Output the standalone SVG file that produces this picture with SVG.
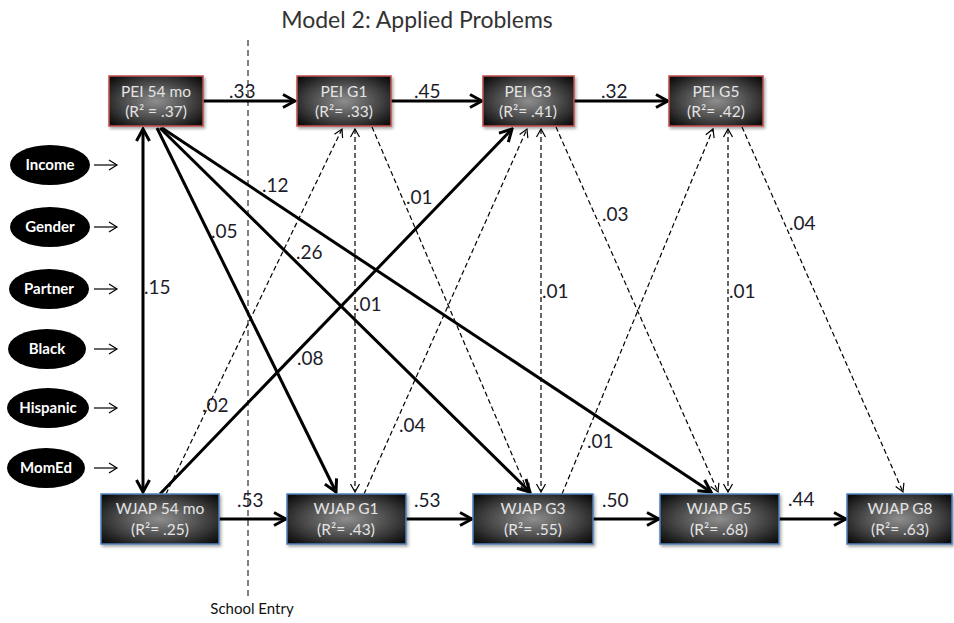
<svg xmlns="http://www.w3.org/2000/svg" width="954" height="623" viewBox="0 0 954 623">
  <defs>
    <radialGradient id="boxFill" cx="50%" cy="50%" r="65%">
      <stop offset="0" stop-color="#8e8e8e"/>
      <stop offset="0.55" stop-color="#4a4a4a"/>
      <stop offset="1" stop-color="#0e0e0e"/>
    </radialGradient>
    <filter id="shadow" x="-10%" y="-10%" width="125%" height="135%">
      <feDropShadow dx="1.5" dy="2" stdDeviation="1.5" flood-color="#000" flood-opacity="0.35"/>
    </filter>
    <marker id="headBold" viewBox="-14 -8 16 16" markerWidth="16" markerHeight="16" refX="0" refY="0" orient="auto-start-reverse" markerUnits="userSpaceOnUse">
      <path d="M -12 -6.5 L 0 0 L -12 6.5" fill="none" stroke="#000" stroke-width="3" stroke-linejoin="miter"/>
    </marker>
    <marker id="headThin" viewBox="-10 -6 12 12" markerWidth="12" markerHeight="12" refX="0" refY="0" orient="auto-start-reverse" markerUnits="userSpaceOnUse">
      <path d="M -8 -4.5 L 0 0 L -8 4.5" fill="none" stroke="#000" stroke-width="1.2" stroke-dasharray="none"/>
    </marker>
    <marker id="headSmall" viewBox="-12 -7 14 14" markerWidth="14" markerHeight="14" refX="0" refY="0" orient="auto" markerUnits="userSpaceOnUse">
      <path d="M -8 -5 L 0 0 L -8 5" fill="none" stroke="#000" stroke-width="1.2"/>
    </marker>
  </defs>
  <style>
    .title { font-family: "Lato", "Liberation Sans", sans-serif; font-size: 23px; fill: #333; }
    .box rect { fill: url(#boxFill); stroke-width: 1.5; filter: url(#shadow); }
    .pei rect { stroke: #c0504d; }
    .wjap rect { stroke: #4f81bd; }
    .box text { font-family: "Lato", "Liberation Sans", sans-serif; font-size: 15.5px; fill: #e4e4e4; text-anchor: middle; }
    .cov ellipse { fill: #000; }
    .cov text { font-family: "Lato", "Liberation Sans", sans-serif; font-size: 15px; font-weight: bold; fill: #fff; text-anchor: middle; }
    .bold { fill: none; stroke: #000; stroke-width: 3; marker-end: url(#headBold); }
    .dash { fill: none; stroke: #000; stroke-width: 1.2; stroke-dasharray: 5 3; marker-end: url(#headThin); }
    .both { marker-start: url(#headThin); }
    .bothBold { marker-start: url(#headBold); }
    .small { fill: none; stroke: #000; stroke-width: 1.2; marker-end: url(#headSmall); }
    .entry { fill: none; stroke: #000; stroke-width: 1; stroke-dasharray: 6 4; }
    .coef { font-family: "Lato", "Liberation Sans", sans-serif; font-size: 19px; fill: #1c1c2a; }
    .note { font-family: "Lato", "Liberation Sans", sans-serif; font-size: 15px; fill: #111; text-anchor: middle; }
  </style>

  <text class="title" x="417" y="28" text-anchor="middle">Model 2: Applied Problems</text>

  <!-- school entry divider -->
  <g id="school-entry">
    <line class="entry" x1="248" y1="40" x2="248" y2="598"/>
    <text class="note" x="252" y="614">School Entry</text>
  </g>

  <!-- connectors -->
  <g id="connectors">
    <!-- stability paths -->
    <path class="bold" d="M203,101 H295"/>
    <path class="bold" d="M391,101 H482"/>
    <path class="bold" d="M574,101 H668"/>
    <path class="bold" d="M219,519 H286"/>
    <path class="bold" d="M406,519 H472"/>
    <path class="bold" d="M593,519 H659"/>
    <path class="bold" d="M779,519 H846"/>
    <!-- 54 month covariance -->
    <path class="bold bothBold" d="M143,129 V492"/>
    <!-- cross-lagged paths, solid -->
    <path class="bold" d="M157,128 L336,492"/>
    <path class="bold" d="M160,128 L530,492"/>
    <path class="bold" d="M162,128 L711,492"/>
    <path class="bold" d="M160,494 L512,129"/>
    <!-- cross-lagged paths, dashed -->
    <path class="dash" d="M166,494 L342,129"/>
    <path class="dash both" d="M355,129 V492"/>
    <path class="dash" d="M372,127 L528,492"/>
    <path class="dash" d="M364,494 L527,129"/>
    <path class="dash both" d="M541,129 V492"/>
    <path class="dash" d="M556,127 L718,492"/>
    <path class="dash" d="M562,494 L713,129"/>
    <path class="dash both" d="M728,129 V492"/>
    <path class="dash" d="M742,127 L903,492"/>
    <!-- covariate arrows -->
    <path class="small" d="M94,165 H117"/>
    <path class="small" d="M94,227 H117"/>
    <path class="small" d="M94,289 H117"/>
    <path class="small" d="M94,349 H117"/>
    <path class="small" d="M94,408 H117"/>
    <path class="small" d="M94,468 H117"/>
  </g>

  <!-- path coefficients -->
  <g id="coefficients">
    <text class="coef" x="229" y="98">.33</text>
    <text class="coef" x="414" y="98">.45</text>
    <text class="coef" x="601" y="98">.32</text>
    <text class="coef" x="237" y="507">.53</text>
    <text class="coef" x="414" y="507">.53</text>
    <text class="coef" x="602" y="507">.50</text>
    <text class="coef" x="788" y="506">.44</text>
    <text class="coef" x="144" y="294">.15</text>
    <text class="coef" x="262" y="192">.12</text>
    <text class="coef" x="211" y="238">.05</text>
    <text class="coef" x="296" y="259">.26</text>
    <text class="coef" x="297" y="365">.08</text>
    <text class="coef" x="202" y="412">.02</text>
    <text class="coef" x="355" y="311">.01</text>
    <text class="coef" x="406" y="204">.01</text>
    <text class="coef" x="399" y="432">.04</text>
    <text class="coef" x="542" y="298">.01</text>
    <text class="coef" x="602" y="221">.03</text>
    <text class="coef" x="587" y="448">.01</text>
    <text class="coef" x="729" y="298">.01</text>
    <text class="coef" x="789" y="230">.04</text>
  </g>

  <!-- PEI nodes -->
  <g id="pei54" class="box pei">
    <rect x="109" y="76" width="94" height="50"/>
    <text x="156" y="97">PEI 54 mo</text>
    <text x="156" y="117">(R² = .37)</text>
  </g>
  <g id="peiG1" class="box pei">
    <rect x="297" y="76" width="94" height="50"/>
    <text x="344" y="97">PEI G1</text>
    <text x="344" y="117">(R²= .33)</text>
  </g>
  <g id="peiG3" class="box pei">
    <rect x="483" y="76" width="91" height="50"/>
    <text x="528" y="97">PEI G3</text>
    <text x="528" y="117">(R²= .41)</text>
  </g>
  <g id="peiG5" class="box pei">
    <rect x="669" y="76" width="94" height="50"/>
    <text x="716" y="97">PEI G5</text>
    <text x="716" y="117">(R²= .42)</text>
  </g>

  <!-- WJAP nodes -->
  <g id="wjap54" class="box wjap">
    <rect x="101" y="494" width="118" height="50"/>
    <text x="160" y="514">WJAP 54 mo</text>
    <text x="160" y="535">(R²= .25)</text>
  </g>
  <g id="wjapG1" class="box wjap">
    <rect x="287" y="494" width="119" height="50"/>
    <text x="346" y="514">WJAP G1</text>
    <text x="346" y="535">(R²= .43)</text>
  </g>
  <g id="wjapG3" class="box wjap">
    <rect x="473" y="494" width="120" height="50"/>
    <text x="533" y="514">WJAP G3</text>
    <text x="533" y="535">(R²= .55)</text>
  </g>
  <g id="wjapG5" class="box wjap">
    <rect x="660" y="494" width="119" height="50"/>
    <text x="719" y="514">WJAP G5</text>
    <text x="719" y="535">(R²= .68)</text>
  </g>
  <g id="wjapG8" class="box wjap">
    <rect x="847" y="494" width="105" height="50"/>
    <text x="900" y="514">WJAP G8</text>
    <text x="900" y="535">(R²= .63)</text>
  </g>

  <!-- covariates -->
  <g id="income" class="cov">
    <ellipse cx="50" cy="165" rx="40" ry="20"/>
    <text x="50" y="170">Income</text>
  </g>
  <g id="gender" class="cov">
    <ellipse cx="50" cy="227" rx="40" ry="20"/>
    <text x="50" y="232">Gender</text>
  </g>
  <g id="partner" class="cov">
    <ellipse cx="49" cy="289" rx="40" ry="20"/>
    <text x="49" y="294">Partner</text>
  </g>
  <g id="black" class="cov">
    <ellipse cx="47" cy="349" rx="39" ry="20"/>
    <text x="47" y="354">Black</text>
  </g>
  <g id="hispanic" class="cov">
    <ellipse cx="48" cy="408" rx="41" ry="20"/>
    <text x="48" y="413">Hispanic</text>
  </g>
  <g id="momed" class="cov">
    <ellipse cx="46" cy="468" rx="39" ry="20"/>
    <text x="46" y="473">MomEd</text>
  </g>
</svg>
